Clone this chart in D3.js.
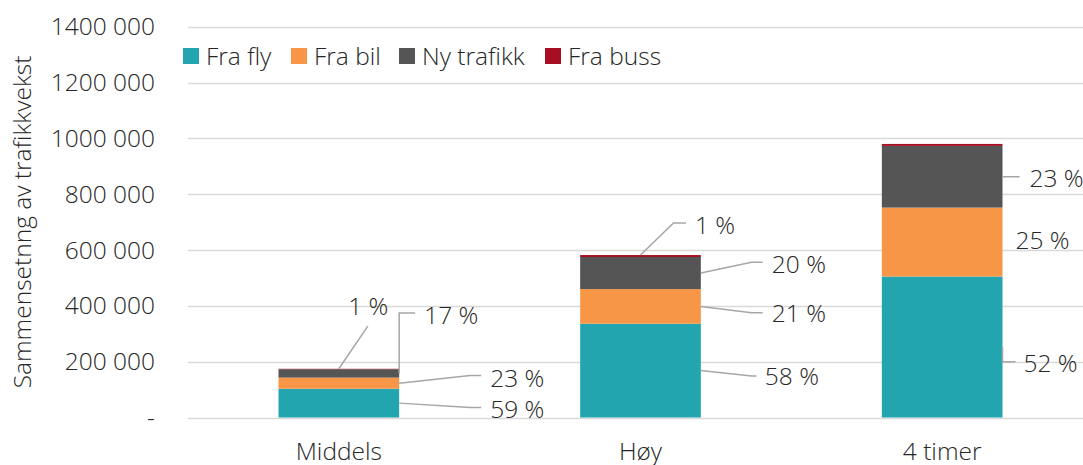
<!DOCTYPE html>
<html><head><meta charset="utf-8">
<script src="https://cdn.jsdelivr.net/npm/d3@7"></script>
<style>
body{margin:0;background:#fff;}
svg{display:block;font-family:"Open Sans",sans-serif;font-weight:300;}
</style></head>
<body>
<svg id="c" width="1083" height="465"></svg>
<script>
// ---- data ----
const categories = ["Middels", "Høy", "4 timer"];
const seriesNames = ["Fra fly", "Fra bil", "Ny trafikk", "Fra buss"];
const fraFly = [103000, 336000, 505000];
const fraBil = [40000, 124000, 247000];
const nyTrafikk = [30000, 115000, 221000];
const fraBuss = [1500, 7000, 7000];
const yTicks = [0, 200000, 400000, 600000, 800000, 1000000, 1200000, 1400000];
const yTickLabels = ["-", "200 000", "400 000", "600 000", "800 000", "1000 000", "1200 000", "1400 000"];
const colors = ["#23a5b0", "#f79646", "#555555", "#a50f21"];

// label layout (anchor type + offsets), not data
const labelLayout = [
  {c:0, s:0, a:"right", pts:[[0,0],[71,4.3],[82,4.3]], t:[91,6.6], ta:"start"},
  {c:0, s:1, a:"right", pts:[[0,0],[71,-7.7],[82,-7.7]], t:[91,-4.7], ta:"start"},
  {c:0, s:2, a:"right", pts:[[0,0],[0,-60.4],[16,-60.4]], t:[25,-57.7], ta:"start"},
  {c:0, s:3, a:"top", pts:[[0,0],[29,-42.6]], t:[29.5,-62], ta:"middle"},
  {c:1, s:0, a:"right", pts:[[0,0],[50.7,5.4],[55.7,5.4]], t:[64,6.1], ta:"start"},
  {c:1, s:1, a:"right", pts:[[0,0],[50.7,6.4],[61.7,6.4]], t:[71,6.7], ta:"start"},
  {c:1, s:2, a:"right", pts:[[0,0],[50.7,-10.7],[61.7,-10.7]], t:[71,-9], ta:"start"},
  {c:1, s:3, a:"top", pts:[[0,0],[33,-32],[45.5,-32]], t:[54.5,-29.7], ta:"start"},
  {c:2, s:0, a:"right", pts:[[0,0],[0,14.7],[13,14.7]], t:[21,16], ta:"start"},
  {c:2, s:1, a:"right", pts:[], t:[13,-1.5], ta:"start"},
  {c:2, s:2, a:"right", pts:[[0,0],[17,0]], t:[27,1.4], ta:"start"}
];

const seriesVals = [fraFly, fraBil, nyTrafikk, fraBuss];
const rows = categories.map((c, i) => {
  const r = {cat: c};
  seriesNames.forEach((s, j) => r[s] = seriesVals[j][i]);
  return r;
});
const stack = d3.stack().keys(seriesNames)(rows);

const svg = d3.select("#c");
const x = d3.scaleBand().domain(categories).range([188, 1093]).paddingInner(0.6).paddingOuter(0.3);
const y = d3.scaleLinear().domain([0, 1400000]).range([417.5, 26.7]);
const FS = 24.5, TXT = "#262626";

// gridlines
svg.append("g").selectAll("line").data(yTicks).join("line")
  .attr("x1", 188).attr("x2", 1083)
  .attr("y1", d => Math.round(y(d)) + 0.5).attr("y2", d => Math.round(y(d)) + 0.5)
  .attr("stroke", "#d9d9d9").attr("stroke-width", 1.5);

// y tick labels
svg.append("g").selectAll("text").data(yTicks).join("text")
  .attr("x", 155).attr("y", d => y(d)).attr("dy", "0.35em")
  .attr("text-anchor", "end").attr("font-size", FS).attr("fill", TXT)
  .text((d, i) => yTickLabels[i]);

// y axis title
svg.append("text")
  .attr("transform", "translate(22,222) rotate(-90)")
  .attr("text-anchor", "middle").attr("dy", "0.35em")
  .attr("font-size", FS).attr("fill", TXT)
  .text("Sammensetnng av trafikkvekst");

// bars
svg.append("g").selectAll("g").data(stack).join("g")
  .attr("fill", (d, i) => colors[i])
  .selectAll("rect").data(d => d).join("rect")
  .attr("x", d => x(d.data.cat)).attr("width", x.bandwidth())
  .attr("y", d => y(d[1])).attr("height", d => y(d[0]) - y(d[1]));

// category labels
svg.append("g").selectAll("text").data(categories).join("text")
  .attr("x", d => x(d) + x.bandwidth() / 2).attr("y", 460)
  .attr("text-anchor", "middle").attr("font-size", FS).attr("fill", TXT)
  .text(d => d);

// data labels with leader lines
const totals = categories.map((c, i) => d3.sum(seriesVals, s => s[i]));
const lg = svg.append("g");
labelLayout.forEach(L => {
  const seg = stack[L.s][L.c];
  let ax, ay;
  if (L.a === "right") { ax = x(categories[L.c]) + x.bandwidth(); ay = (y(seg[0]) + y(seg[1])) / 2; }
  else { ax = x(categories[L.c]) + x.bandwidth() / 2; ay = y(seg[1]); }
  if (L.pts.length) {
    lg.append("path")
      .attr("d", d3.line()(L.pts.map(p => [ax + p[0], ay + p[1]])))
      .attr("fill", "none").attr("stroke", "#a6a6a6").attr("stroke-width", 1.5);
  }
  const pct = Math.round(seriesVals[L.s][L.c] / totals[L.c] * 100);
  lg.append("text")
    .attr("x", ax + L.t[0]).attr("y", ay + L.t[1]).attr("dy", "0.35em")
    .attr("text-anchor", L.ta).attr("font-size", FS).attr("fill", TXT)
    .text(pct + " %");
});

// legend
const legX = [183, 291, 399, 545];
const lgd = svg.append("g").selectAll("g").data(seriesNames).join("g")
  .attr("transform", (d, i) => `translate(${legX[i]},48)`);
lgd.append("rect").attr("width", 16).attr("height", 16).attr("fill", (d, i) => colors[i]);
lgd.append("text").attr("x", 23).attr("y", 8).attr("dy", "0.35em")
  .attr("font-size", FS).attr("fill", TXT).text(d => d);
</script>
</body></html>
